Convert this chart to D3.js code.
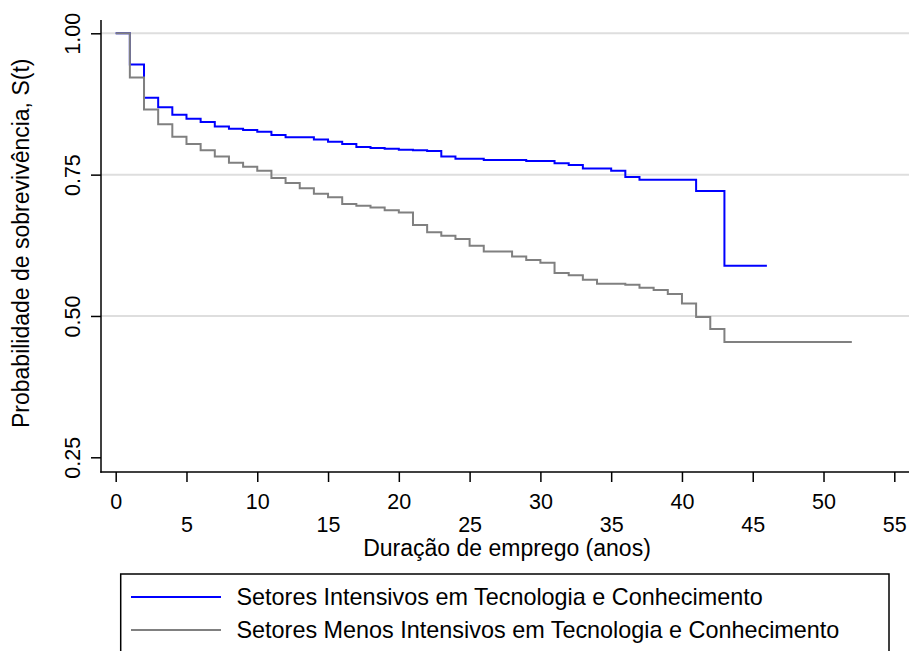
<!DOCTYPE html>
<html>
<head>
<meta charset="utf-8">
<script src="https://cdn.jsdelivr.net/npm/d3@7"></script>
<style>
  body { margin: 0; background: #fff; }
  svg { display: block; font-family: Arial, "Liberation Sans", sans-serif; }
</style>
</head>
<body>
<svg id="chart" width="911" height="651"></svg>
<script>
// survival estimates, time in years
var blueTimes = [0, 1, 2, 3, 4, 5, 6, 7, 8, 9, 10, 11, 12, 14, 15, 16, 17, 18, 19, 20, 21, 22, 23, 24, 26, 29, 31, 32, 33, 35, 36, 37, 41, 43, 46];
var blueSurv  = [1.0, 0.945, 0.886, 0.869, 0.856, 0.849, 0.843, 0.835, 0.831, 0.829, 0.826, 0.820, 0.816, 0.812, 0.808, 0.804, 0.799, 0.797, 0.796, 0.794, 0.793, 0.792, 0.782, 0.778, 0.776, 0.774, 0.770, 0.767, 0.761, 0.757, 0.746, 0.741, 0.721, 0.589, 0.589];

var grayTimes = [0, 1, 2, 3, 4, 5, 6, 7, 8, 9, 10, 11, 12, 13, 14, 15, 16, 17, 18, 19, 20, 21, 22, 23, 24, 25, 26, 28, 29, 30, 31, 32, 33, 34, 36, 37, 38, 39, 40, 41, 42, 43, 52];
var graySurv  = [1.0, 0.922, 0.865, 0.839, 0.817, 0.804, 0.793, 0.782, 0.771, 0.764, 0.757, 0.744, 0.735, 0.726, 0.716, 0.710, 0.698, 0.695, 0.692, 0.687, 0.683, 0.661, 0.648, 0.642, 0.636, 0.624, 0.614, 0.605, 0.599, 0.594, 0.576, 0.572, 0.564, 0.557, 0.555, 0.550, 0.546, 0.539, 0.522, 0.498, 0.477, 0.454, 0.454];

var xTicks = [0, 5, 10, 15, 20, 25, 30, 35, 40, 45, 50, 55];
var yTicks = [0.25, 0.50, 0.75, 1.00];
var gridTicks = [0.50, 0.75, 1.00];

var seriesNames = ["Setores Intensivos em Tecnologia e Conhecimento",
                   "Setores Menos Intensivos em Tecnologia e Conhecimento"];
var seriesColors = ["#0000ff", "#808080"];

var svg = d3.select("#chart");

var x = d3.scaleLinear().domain([0, 55]).range([115.7, 894.3]);
var y = d3.scaleLinear().domain([0.25, 1]).range([457.3, 33.3]);

var axisLeftX = 101, axisBottomY = 472, plotRight = 909, plotTop = 20;

// grid
svg.append("g").selectAll("line")
    .data(gridTicks)
    .join("line")
    .attr("x1", axisLeftX).attr("x2", plotRight)
    .attr("y1", function(d){ return y(d); })
    .attr("y2", function(d){ return y(d); })
    .attr("stroke", "#dedede")
    .attr("stroke-width", 2);

// curves
var line = d3.line()
    .x(function(d){ return x(d[0]); })
    .y(function(d){ return y(d[1]); })
    .curve(d3.curveStepAfter);

var blueData = blueTimes.map(function(t, i){ return [t, blueSurv[i]]; });
var grayData = grayTimes.map(function(t, i){ return [t, graySurv[i]]; });

svg.append("path").datum(blueData)
    .attr("d", line)
    .attr("fill", "none")
    .attr("stroke", seriesColors[0])
    .attr("stroke-width", 2);

svg.append("path").datum(grayData)
    .attr("d", line)
    .attr("fill", "none")
    .attr("stroke", seriesColors[1])
    .attr("stroke-width", 2);

// y axis
var yAxis = svg.append("g")
    .attr("transform", "translate(" + axisLeftX + ",0)")
    .call(d3.axisLeft(y).tickValues(yTicks).tickFormat(d3.format(".2f")).tickSize(10).tickSizeOuter(0));
yAxis.select(".domain").remove();
yAxis.selectAll(".tick line").attr("stroke", "#000").attr("stroke-width", 1.5);
yAxis.selectAll(".tick text")
    .attr("x", null).attr("dy", null)
    .attr("text-anchor", "middle")
    .attr("transform", "translate(-21,0) rotate(-90)")
    .attr("font-size", "21.5px")
    .attr("fill", "#000");
yAxis.attr("font-family", null);

svg.append("line")
    .attr("x1", axisLeftX).attr("x2", axisLeftX)
    .attr("y1", plotTop).attr("y2", axisBottomY + 0.75)
    .attr("stroke", "#000").attr("stroke-width", 1.5);

// x axis
var xAxis = svg.append("g")
    .attr("transform", "translate(0," + axisBottomY + ")")
    .call(d3.axisBottom(x).tickValues(xTicks).tickSize(10).tickSizeOuter(0));
xAxis.select(".domain").remove();
xAxis.attr("font-family", null);
xAxis.selectAll(".tick line").attr("stroke", "#000").attr("stroke-width", 1.5);
xAxis.selectAll(".tick text")
    .attr("dy", null)
    .attr("y", function(d, i){ return i % 2 === 0 ? 36.5 : 60; })
    .attr("font-size", "21.5px")
    .attr("fill", "#000");

svg.append("line")
    .attr("x1", axisLeftX - 0.75).attr("x2", plotRight)
    .attr("y1", axisBottomY).attr("y2", axisBottomY)
    .attr("stroke", "#000").attr("stroke-width", 1.5);

// axis titles
svg.append("text")
    .attr("x", (x(0) + x(55)) / 2 + 2)
    .attr("y", 556)
    .attr("text-anchor", "middle")
    .attr("font-size", "23px")
    .text("Duração de emprego (anos)");

svg.append("text")
    .attr("transform", "translate(29," + ((y(0.25) + y(1)) / 2 - 2) + ") rotate(-90)")
    .attr("text-anchor", "middle")
    .attr("font-size", "23px")
    .text("Probabilidade de sobrevivência, S(t)");

// legend
var legend = svg.append("g");
legend.append("rect")
    .attr("x", 120.7).attr("y", 574)
    .attr("width", 768.3).attr("height", 90)
    .attr("fill", "#fff")
    .attr("stroke", "#000")
    .attr("stroke-width", 1.5);

var items = legend.selectAll("g.item")
    .data(seriesNames)
    .join("g")
    .attr("class", "item")
    .attr("transform", function(d, i){ return "translate(0," + (597 + i * 33) + ")"; });

items.append("line")
    .attr("x1", 131).attr("x2", 221)
    .attr("stroke", function(d, i){ return seriesColors[i]; })
    .attr("stroke-width", 2);

items.append("text")
    .attr("x", 236.5)
    .attr("y", 8)
    .attr("font-size", "23.4px")
    .text(function(d){ return d; });
</script>
</body>
</html>
